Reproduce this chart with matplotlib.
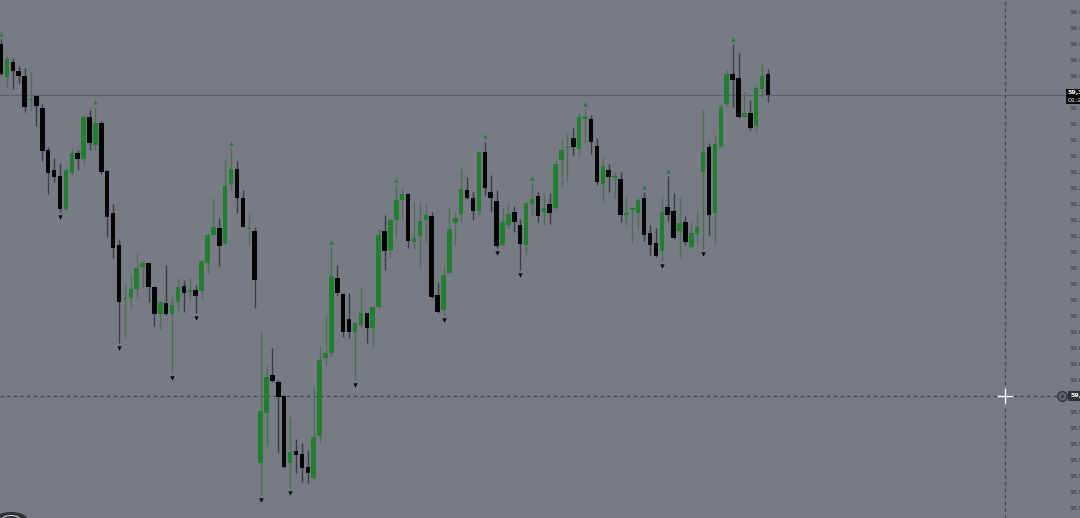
import matplotlib
matplotlib.use("Agg")
import matplotlib.pyplot as plt
import matplotlib.transforms as mtransforms
from matplotlib.patches import Rectangle, Circle
import numpy as np

# ---------------- data ----------------
opens = [59.440, 59.399, 59.418, 59.406, 59.400, 59.370, 59.375, 59.360, 59.308, 59.283,
         59.275, 59.234, 59.279, 59.304, 59.296, 59.349, 59.314, 59.341, 59.281, 59.229,
         59.189, 59.121, 59.123, 59.134, 59.161, 59.166, 59.136, 59.103, 59.116, 59.103,
         59.118, 59.138, 59.130, 59.133, 59.131, 59.166, 59.201, 59.210, 59.190, 59.265,
         59.284, 59.248, 59.209, 59.206, 58.916, 58.979, 59.026, 59.018, 59.000, 58.916,
         58.931, 58.928, 58.911, 58.898, 58.950, 59.048, 59.054, 59.148, 59.128, 59.096,
         59.080, 59.089, 59.104, 59.085, 59.111, 59.206, 59.183, 59.220, 59.245, 59.253,
         59.193, 59.200, 59.220, 59.225, 59.126, 59.108, 59.154, 59.216, 59.228, 59.258,
         59.248, 59.231, 59.305, 59.255, 59.244, 59.189, 59.214, 59.230, 59.214, 59.189,
         59.240, 59.250, 59.230, 59.240, 59.235, 59.295, 59.310, 59.323, 59.309, 59.346,
         59.346, 59.313, 59.265, 59.283, 59.273, 59.271, 59.226, 59.233, 59.229, 59.248,
         59.204, 59.191, 59.181, 59.236, 59.231, 59.206, 59.218, 59.186, 59.203, 59.280,
         59.311, 59.229, 59.311, 59.365, 59.403, 59.398, 59.349, 59.354, 59.338, 59.384,
         59.403]
highs = [59.446, 59.426, 59.423, 59.413, 59.410, 59.405, 59.376, 59.365, 59.311, 59.298,
         59.291, 59.283, 59.309, 59.308, 59.351, 59.358, 59.361, 59.344, 59.283, 59.240,
         59.196, 59.139, 59.151, 59.179, 59.169, 59.166, 59.138, 59.118, 59.164, 59.124,
         59.148, 59.145, 59.148, 59.139, 59.170, 59.204, 59.248, 59.223, 59.296, 59.310,
         59.294, 59.258, 59.229, 59.211, 59.083, 59.038, 59.060, 59.020, 59.001, 58.974,
         58.946, 58.941, 58.933, 59.011, 59.063, 59.101, 59.186, 59.164, 59.129, 59.129,
         59.093, 59.135, 59.104, 59.111, 59.209, 59.226, 59.223, 59.264, 59.260, 59.254,
         59.243, 59.243, 59.243, 59.230, 59.143, 59.161, 59.235, 59.230, 59.284, 59.274,
         59.255, 59.305, 59.318, 59.276, 59.258, 59.235, 59.240, 59.238, 59.221, 59.243,
         59.266, 59.255, 59.253, 59.254, 59.295, 59.323, 59.329, 59.335, 59.354, 59.359,
         59.351, 59.323, 59.299, 59.290, 59.280, 59.280, 59.250, 59.236, 59.248, 59.255,
         59.214, 59.210, 59.250, 59.275, 59.254, 59.249, 59.225, 59.218, 59.230, 59.358,
         59.316, 59.326, 59.366, 59.408, 59.440, 59.429, 59.381, 59.370, 59.389, 59.415,
         59.409]
lows = [59.401, 59.386, 59.384, 59.391, 59.355, 59.358, 59.338, 59.294, 59.253, 59.268,
        59.230, 59.233, 59.276, 59.283, 59.289, 59.308, 59.308, 59.278, 59.199, 59.173,
        59.066, 59.073, 59.111, 59.123, 59.135, 59.118, 59.088, 59.084, 59.101, 59.029,
        59.108, 59.105, 59.120, 59.104, 59.120, 59.154, 59.201, 59.163, 59.190, 59.258,
        59.229, 59.211, 59.189, 59.110, 58.876, 58.938, 59.018, 58.929, 58.910, 58.885,
        58.904, 58.893, 58.891, 58.896, 58.941, 59.039, 59.049, 59.126, 59.074, 59.073,
        59.020, 59.086, 59.066, 59.061, 59.110, 59.158, 59.174, 59.198, 59.221, 59.185,
        59.184, 59.160, 59.191, 59.123, 59.104, 59.101, 59.154, 59.189, 59.219, 59.246,
        59.220, 59.226, 59.251, 59.230, 59.185, 59.188, 59.210, 59.205, 59.158, 59.178,
        59.226, 59.218, 59.214, 59.215, 59.233, 59.263, 59.268, 59.301, 59.301, 59.316,
        59.303, 59.264, 59.243, 59.255, 59.248, 59.218, 59.214, 59.191, 59.208, 59.194,
        59.176, 59.174, 59.169, 59.219, 59.196, 59.173, 59.189, 59.186, 59.191, 59.184,
        59.201, 59.191, 59.311, 59.363, 59.361, 59.348, 59.349, 59.333, 59.330, 59.374,
        59.368]
closes = [59.403, 59.421, 59.406, 59.400, 59.361, 59.371, 59.363, 59.306, 59.279, 59.274,
          59.234, 59.283, 59.304, 59.296, 59.349, 59.316, 59.341, 59.280, 59.224, 59.185,
          59.118, 59.123, 59.134, 59.160, 59.166, 59.136, 59.103, 59.118, 59.103, 59.114,
          59.136, 59.129, 59.133, 59.125, 59.169, 59.201, 59.211, 59.188, 59.263, 59.284,
          59.248, 59.211, 59.210, 59.145, 58.981, 59.024, 59.019, 58.999, 58.911, 58.930,
          58.926, 58.910, 58.904, 58.949, 59.045, 59.054, 59.150, 59.129, 59.080, 59.080,
          59.091, 59.104, 59.085, 59.111, 59.201, 59.181, 59.220, 59.245, 59.253, 59.194,
          59.198, 59.219, 59.226, 59.124, 59.105, 59.151, 59.209, 59.223, 59.259, 59.248,
          59.231, 59.305, 59.260, 59.248, 59.188, 59.218, 59.228, 59.218, 59.190, 59.241,
          59.246, 59.225, 59.235, 59.229, 59.290, 59.308, 59.311, 59.311, 59.349, 59.350,
          59.318, 59.268, 59.288, 59.274, 59.275, 59.226, 59.229, 59.234, 59.245, 59.201,
          59.189, 59.175, 59.230, 59.226, 59.198, 59.216, 59.193, 59.204, 59.211, 59.305,
          59.226, 59.315, 59.361, 59.403, 59.395, 59.349, 59.354, 59.335, 59.385, 59.400,
          59.376]

swing_high_idx = [0, 16, 39, 56, 67, 82, 90, 99, 109, 113, 124]
swing_low_idx = [10, 20, 29, 33, 44, 49, 60, 75, 84, 88, 112, 119]

# price scale ticks (59.38 and 59.00 are hidden under the price boxes)
tick_values = [59.48, 59.46, 59.44, 59.42, 59.40, 59.36, 59.34, 59.32, 59.30,
               59.28, 59.26, 59.24, 59.22, 59.20, 59.18, 59.16, 59.14, 59.12, 59.10,
               59.08, 59.06, 59.04, 59.02, 58.98, 58.96, 58.94, 58.92, 58.90,
               58.88, 58.86]
tick_labels = [f"{v:.2f}".replace(".", ",") for v in tick_values]

crosshair_price = 59.00
crosshair_label = "59,000"
last_price_label = "59,376"
countdown_label = "01:23"

# ---------------- style ----------------
W, H = 1080, 518
BG = "#787b86"
GREEN = "#227f2f"
BLACK = "#050505"
GREEN_WICK = "#4e7052"
BLACK_WICK = "#3a3c42"
TXT = "#30333a"

fig = plt.figure(figsize=(W / 100, H / 100), dpi=100, facecolor=BG)
ax = fig.add_axes([0, 0, 1, 1])
ax.set_facecolor(BG)
ax.set_axis_off()

n = len(opens)
idx = np.arange(n)
o = np.array(opens); h = np.array(highs); l = np.array(lows); c = np.array(closes)
up = c >= o

spacing_px = 5.9
x0 = -1.0 / spacing_px
x1 = x0 + W / spacing_px
ax.set_xlim(x0, x1)
ax.set_ylim(58.8475, 59.495)

# wicks
ax.vlines(idx[up], l[up], h[up], colors=GREEN_WICK, linewidth=1.0, zorder=2)
ax.vlines(idx[~up], l[~up], h[~up], colors=BLACK_WICK, linewidth=1.0, zorder=2)

# bodies
min_h = 0.0015
bottoms = np.minimum(o, c)
heights = np.maximum(np.abs(c - o), min_h)
ax.bar(idx[up], heights[up], bottom=bottoms[up], width=0.75, color=GREEN,
       edgecolor="none", zorder=3)
ax.bar(idx[~up], heights[~up], bottom=bottoms[~up], width=0.75, color=BLACK,
       edgecolor="none", zorder=3)

# swing markers
off = 0.0065
ax.scatter(idx[swing_high_idx], h[swing_high_idx] + off, marker="^", s=10,
           color=GREEN, linewidths=0, zorder=4)
ax.scatter(idx[swing_low_idx], l[swing_low_idx] - off, marker="v", s=10,
           color=BLACK, linewidths=0, zorder=4)

trans = mtransforms.blended_transform_factory(ax.transAxes, ax.transData)

# last price line
last = c[-1]
ax.plot([0, 1065 / W], [last, last], transform=trans, color="#5c6069",
        linewidth=0.8, zorder=1)

# crosshair
ax.plot([0, 1057 / W], [crosshair_price, crosshair_price], transform=trans,
        color="#3b3e46", linewidth=0.8, linestyle=(0, (3, 3)), zorder=1)
ax.plot([1005 / W, 1005 / W], [0, 1], transform=ax.transAxes,
        color="#3b3e46", linewidth=0.8, linestyle=(0, (3, 3)), zorder=1)
ax.plot([1005 / W], [crosshair_price], transform=trans, marker="+",
        markersize=11, mew=1.0, color="white", zorder=6)

# price scale labels (cut by the right edge)
for v, lab in zip(tick_values, tick_labels):
    ax.text(1070 / W, v, lab, transform=trans, fontsize=4.4, color=TXT,
            ha="left", va="center", zorder=5)

# last price box
ax.add_patch(Rectangle((1066 / W, last - 0.0115), 20 / W, 0.0195,
                       transform=trans, facecolor="#0a0a0a", edgecolor="none", zorder=6))
ax.text(1068 / W, last + 0.0035, last_price_label, transform=trans, fontsize=4.6,
        color="white", ha="left", va="center", zorder=7, fontweight="bold")
ax.text(1068 / W, last - 0.0065, countdown_label, transform=trans, fontsize=4.6,
        color="white", ha="left", va="center", zorder=7)

# crosshair price box
ax.add_patch(Rectangle((1068 / W, crosshair_price - 0.0068), 20 / W, 0.0136,
                       transform=trans, facecolor="#2f323a", edgecolor="none", zorder=6))
ax.text(1070.5 / W, crosshair_price, crosshair_label, transform=trans, fontsize=4.6,
        color="white", ha="left", va="center", zorder=7, fontweight="bold")
ax.plot([1062 / W], [crosshair_price], transform=trans, marker="o", markersize=7,
        markerfacecolor="#5f626b", markeredgecolor="#2f323a", mew=0.9, zorder=7)
ax.plot([1062 / W], [crosshair_price], transform=trans, marker="o", markersize=2,
        markerfacecolor="#2f323a", markeredgecolor="none", zorder=8)

# logo at bottom-left (partially cut)
fig.patches.append(Circle((11 / W, -2 / H), 8 / H, transform=fig.transFigure,
                          facecolor="#2a2d33", edgecolor="none", zorder=10))
fig.patches.append(Circle((11 / W, -2 / H), 4.5 / H, transform=fig.transFigure,
                          facecolor="none", edgecolor="#d0d0d0", linewidth=0.8, zorder=11))

fig.savefig("out.png", dpi=100, facecolor=BG)
